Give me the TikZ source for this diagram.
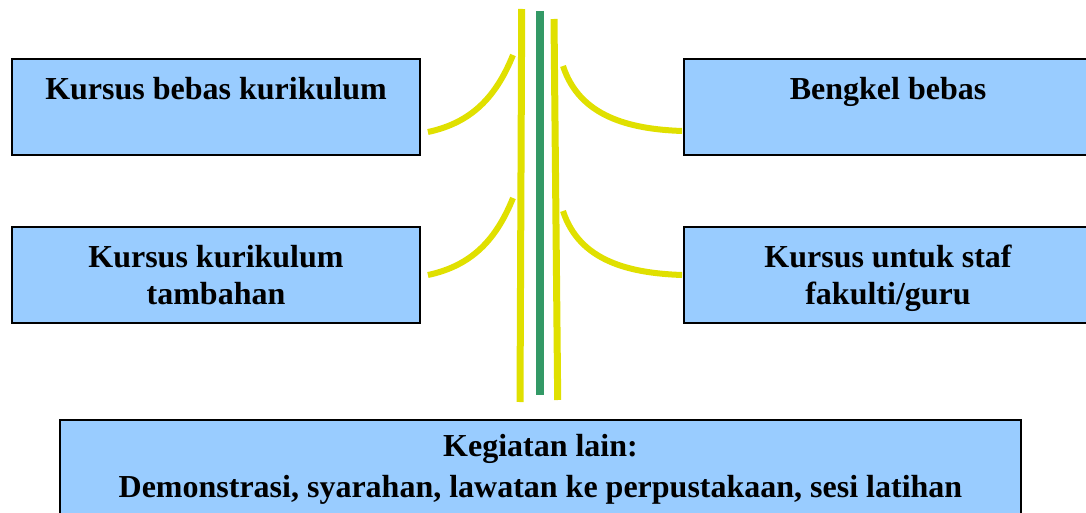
\documentclass[tikz,border=0pt]{standalone}
\usepackage{fontspec}
\setmainfont{Liberation Serif}
\usepackage{tikz}
\usetikzlibrary{%
  calc,%
  positioning%
}
\definecolor{boxblue}{HTML}{99CCFF}
\definecolor{stemyellow}{HTML}{E0E000}
\definecolor{stemgreen}{HTML}{339966}

\begin{document}
\begin{tikzpicture}[x=1pt, y=1pt,
  every node/.style={font=\fontsize{32}{37}\selectfont\bfseries},
  kbox/.style={draw=black, line width=1.8pt, fill=boxblue, minimum width=408pt, minimum height=96pt, align=center, inner sep=0pt},
  stem/.style={draw=stemyellow, line width=7pt},
  twig/.style={draw=stemyellow, line width=6pt}]
\useasboundingbox (0,0) rectangle (1086,512);
\clip (0,0) rectangle (1086,512);

\node[kbox] (bebas) at (216,405) {Kursus bebas kurikulum\\ \mbox{}};
\node[kbox] (tambahan) at (216,237) {Kursus kurikulum\\tambahan};
\node[kbox] (bengkel) at (888,405) {Bengkel bebas\\ \mbox{}};
\node[kbox] (staf) at (888,237) {Kursus untuk staf\\\smash{fakulti/guru}};
\node[kbox, minimum width=961pt, minimum height=99pt, font=\fontsize{32}{41}\selectfont\bfseries] (lain) at (540.5,42.5)
  {Kegiatan lain:\\Demonstrasi, syarahan, lawatan ke perpustakaan, sesi latihan};

\coordinate (ltop) at (521.7,503);
\coordinate (lbot) at (520,110);
\coordinate (gtop) at (540,501);
\coordinate (gbot) at (540,117);
\coordinate (rtop) at (554,493);
\coordinate (rbot) at (557.7,112);

\coordinate (bebas-end) at (513,457);
\coordinate (tambahan-end) at (513,314);
\coordinate (bengkel-end) at (563,446);
\coordinate (staf-end) at (563,301);

\draw[stem] (ltop) -- (lbot);
\draw[stem] (rtop) -- (rbot);
\draw[draw=stemgreen, line width=8pt] (gtop) -- (gbot);

\draw[twig]
	([shift={(7,-25)}]bebas.east) to[out=12, in=-112] (bebas-end)
	([shift={(7,0)}]tambahan.east) to[out=12, in=-112] (tambahan-end)
	(bengkel-end) to[out=-72, in=178] ([shift={(-1,-24)}]bengkel.west)
	(staf-end) to[out=-72, in=178] ([shift={(-1,0)}]staf.west)
;
\end{tikzpicture}
\end{document}
